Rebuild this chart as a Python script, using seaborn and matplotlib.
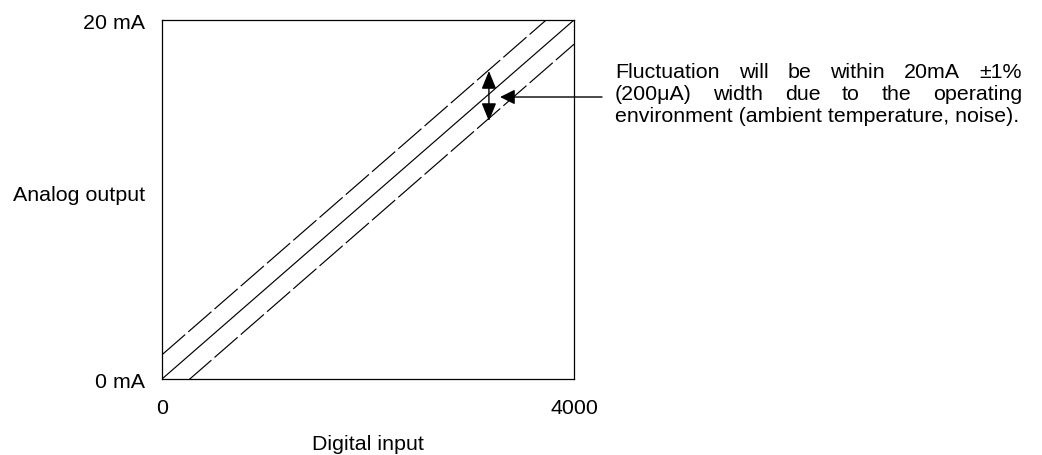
import numpy as np
import pandas as pd
import matplotlib
matplotlib.use("Agg")
import matplotlib.pyplot as plt
import seaborn as sns

# ---- data ----
digital_input = [0, 4000]
analog_output = [0, 20]
tolerance_band = 1.35          # mA drawn above/below the ideal line
x_ticks = [0, 4000]
x_tick_labels = ["0", "4000"]
y_ticks = [0, 20]
y_tick_labels = ["0 mA", "20 mA"]
arrow_x = 3174
arrow_top = 17.16
arrow_bottom = 14.37
pointer_tip = (3282, 15.71)
pointer_tail = (4272, 15.71)
note_lines = [
    "Fluctuation will be within 20mA \u00b11%",
    "(200\u03bcA) width due to the operating",
    "environment (ambient temperature, noise).",
]

sns.set_theme(style="white")
plt.rcParams["font.family"] = ["Liberation Sans", "DejaVu Sans"]
plt.rcParams["text.color"] = "black"
plt.rcParams["axes.labelcolor"] = "black"
plt.rcParams["xtick.color"] = "black"
plt.rcParams["ytick.color"] = "black"
FS = 15.4

W, H = 1042, 456
fig = plt.figure(figsize=(W / 100, H / 100), dpi=100)
ax = fig.add_axes([162 / W, 1 - 380 / H, 412 / W, 359 / H])

df = pd.DataFrame({"x": digital_input, "y": analog_output})
df_up = pd.DataFrame({"x": digital_input, "y": [v + tolerance_band for v in analog_output]})
df_lo = pd.DataFrame({"x": digital_input, "y": [v - tolerance_band for v in analog_output]})

lw = 0.85
sns.lineplot(data=df, x="x", y="y", ax=ax, color="black", lw=lw)
for d in (df_up, df_lo):
    sns.lineplot(data=d, x="x", y="y", ax=ax, color="black", lw=lw,
                 dashes=False, linestyle=(0, (26, 3.5)))

ax.set_xlim(0, 4000)
ax.set_ylim(0, 20)
ax.set_xticks(x_ticks)
ax.set_xticklabels(x_tick_labels, fontsize=FS, color="black")
ax.set_yticks(y_ticks)
ax.set_yticklabels(y_tick_labels, fontsize=FS, color="black")
ax.tick_params(axis="x", length=0, pad=14)
ax.tick_params(axis="y", length=0, pad=12)
for s in ax.spines.values():
    s.set_visible(True)
    s.set_color("black")
    s.set_linewidth(0.9)

ax.set_xlabel("Digital input", fontsize=FS, va="center", color="black")
ax.xaxis.set_label_coords(0.5, -0.181)
ax.set_ylabel("Analog output", fontsize=FS, rotation=0, ha="right", va="center", color="black")
ax.yaxis.set_label_coords(-0.041, 0.513)

# double-headed arrow
ax.annotate("", xy=(arrow_x, arrow_top), xytext=(arrow_x, arrow_bottom),
            arrowprops=dict(arrowstyle="<|-|>,head_length=1.1,head_width=0.45",
                            color="black", lw=1.0, mutation_scale=10,
                            shrinkA=0, shrinkB=0))
# pointer arrow
ax.annotate("", xy=pointer_tip, xytext=pointer_tail, annotation_clip=False,
            arrowprops=dict(arrowstyle="-|>,head_length=0.9,head_width=0.45",
                            color="black", lw=1.0, mutation_scale=10,
                            shrinkA=0, shrinkB=0))

# justified note text
renderer = fig.canvas.get_renderer()
left_px, right_px = 615, 1022
baselines = [78, 100, 121.5]
for i, (line, by) in enumerate(zip(note_lines, baselines)):
    yf = 1 - by / H
    if i == len(note_lines) - 1:
        fig.text(left_px / W, yf, line, fontsize=FS, ha="left", va="baseline", color="black")
        continue
    words = line.split(" ")
    objs = [fig.text(0, yf, w_, fontsize=FS, ha="left", va="baseline", color="black") for w_ in words]
    widths = [o.get_window_extent(renderer).width for o in objs]
    gap = (right_px - left_px - sum(widths)) / (len(words) - 1)
    x = left_px
    for o, wd in zip(objs, widths):
        o.set_x(x / W)
        x += wd + gap

fig.savefig("out.png", dpi=100)
